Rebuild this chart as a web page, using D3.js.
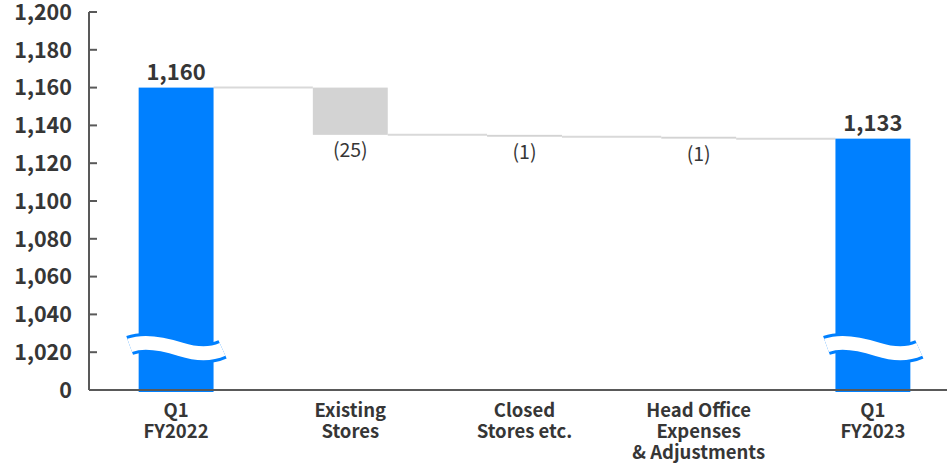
<!DOCTYPE html>
<html>
<head>
<meta charset="utf-8">
<script src="https://cdn.jsdelivr.net/npm/d3@7/dist/d3.min.js"></script>
<style>
html,body{margin:0;padding:0;background:#fff;}
svg{display:block;font-family:"Noto Sans CJK JP","Noto Sans",sans-serif;}
</style>
</head>
<body>
<svg id="chart" width="947" height="464"></svg>
<script>
const categories = [["Q1","FY2022"],["Existing","Stores"],["Closed","Stores etc."],["Head Office","Expenses","& Adjustments"],["Q1","FY2023"]];
const values = [1160, -25, -1, -1, 1133];
const kinds = ["total","delta","delta","delta","total"];
const valueLabels = ["1,160","(25)","(1)","(1)","1,133"];
const tickValues = [1000,1020,1040,1060,1080,1100,1120,1140,1160,1180,1200];
const tickLabels = ["0","1,020","1,040","1,060","1,080","1,100","1,120","1,140","1,160","1,180","1,200"];
const axisBase = 1000;
const breakValue = 1022;

const svg = d3.select("#chart");
const W = 947, H = 464;
const x0 = 89, x1 = 960, yTop = 12, yBot = 390;

const x = d3.scaleBand().domain(d3.range(categories.length)).range([x0, x1]).paddingInner(0.57).paddingOuter(0.285);
const y = d3.scaleLinear().domain([1000, 1200]).range([yBot, yTop]);

// waterfall computation
let running = 0;
const bars = values.map((v, i) => {
  let start, end;
  if (kinds[i] === "total") { start = axisBase; end = v; running = v; }
  else { start = running; end = running + v; running = end; }
  return {i, start, end, v, kind: kinds[i]};
});

const blue = "#0080FF", grey = "#D3D3D3", conn = "#D9D9D9", textCol = "#363636";

// connectors
for (let i = 0; i < bars.length - 1; i++) {
  const level = bars[i].end;
  svg.append("line")
    .attr("x1", x(i) + x.bandwidth()).attr("x2", x(i + 1))
    .attr("y1", y(level)).attr("y2", y(level))
    .attr("stroke", conn).attr("stroke-width", 2);
}

// bars
svg.selectAll("rect.bar").data(bars).enter().append("rect")
  .attr("class", "bar")
  .attr("x", d => x(d.i))
  .attr("width", x.bandwidth())
  .attr("y", d => y(Math.max(d.start, d.end)))
  .attr("height", d => {
    const h = Math.abs(y(d.start) - y(d.end));
    return d.kind === "total" ? h + 2 : Math.max(h, 1.5);
  })
  .attr("fill", d => d.kind === "total" ? blue : grey);

// wavy break on total bars
bars.filter(d => d.kind === "total").forEach(d => {
  const bx = x(d.i) - 9, bw = x.bandwidth() + 18;
  const cy = y(breakValue);
  const p = d3.path();
  p.moveTo(bx, cy - 3);
  p.bezierCurveTo(bx + bw * 0.15, cy - 8, bx + bw * 0.35, cy - 5, bx + bw * 0.55, cy + 1);
  p.bezierCurveTo(bx + bw * 0.72, cy + 6, bx + bw * 0.88, cy + 6, bx + bw, cy + 1);
  svg.append("path").attr("d", p.toString()).attr("fill", "none")
    .attr("stroke", blue).attr("stroke-width", 20);
  svg.append("path").attr("d", p.toString()).attr("fill", "none")
    .attr("stroke", "#fff").attr("stroke-width", 14);
});

// axes
svg.append("line").attr("x1", x0).attr("x2", W).attr("y1", y(axisBase)).attr("y2", y(axisBase))
  .attr("stroke", "#595959").attr("stroke-width", 2);
svg.append("line").attr("x1", x0).attr("x2", x0).attr("y1", y(1200)).attr("y2", y(axisBase))
  .attr("stroke", "#595959").attr("stroke-width", 2);
svg.selectAll("line.tick").data(tickValues.slice(1)).enter().append("line")
  .attr("x1", x0).attr("x2", x0 + 8).attr("y1", d => y(d)).attr("y2", d => y(d))
  .attr("stroke", "#595959").attr("stroke-width", 2);
svg.selectAll("text.ytick").data(tickValues).enter().append("text")
  .attr("x", 72).attr("y", d => y(d)).attr("dy", "0.36em")
  .attr("text-anchor", "end").attr("font-size", 21.5).attr("font-weight", "bold")
  .attr("fill", textCol).text((d, i) => tickLabels[i]);

// x labels
categories.forEach((lines, i) => {
  const t = svg.append("text").attr("text-anchor", "middle")
    .attr("font-size", 18.5).attr("font-weight", "bold").attr("fill", textCol);
  lines.forEach((l, j) => {
    t.append("tspan").attr("x", x(i) + x.bandwidth() / 2).attr("y", 417 + j * 21).text(l);
  });
});

// value labels
bars.forEach(d => {
  const cx = x(d.i) + x.bandwidth() / 2;
  if (d.kind === "total") {
    svg.append("text").attr("x", cx).attr("y", y(d.end) - 8)
      .attr("text-anchor", "middle").attr("font-size", 22).attr("font-weight", "bold")
      .attr("fill", textCol).text(valueLabels[d.i]);
  } else {
    svg.append("text").attr("x", cx).attr("y", y(Math.min(d.start, d.end)) + 22)
      .attr("text-anchor", "middle").attr("font-size", 19.5)
      .attr("fill", textCol).text(valueLabels[d.i]);
  }
});
</script>
</body>
</html>
